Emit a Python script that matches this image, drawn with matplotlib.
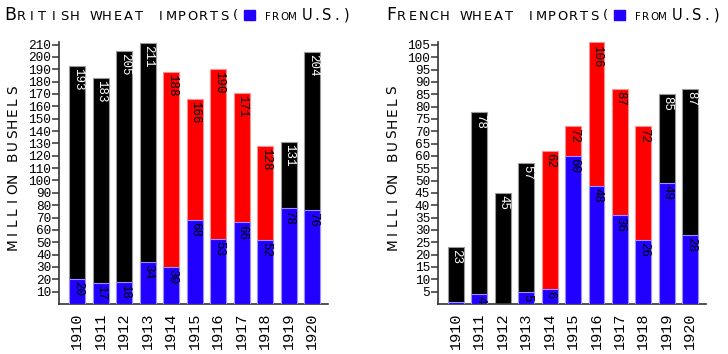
import matplotlib
matplotlib.use("Agg")
import matplotlib.pyplot as plt

years = [1910, 1911, 1912, 1913, 1914, 1915, 1916, 1917, 1918, 1919, 1920]
war_years = [1914, 1915, 1916, 1917, 1918]
british_total = [193, 183, 205, 211, 188, 166, 190, 171, 128, 131, 204]
british_us = [20, 17, 18, 34, 30, 68, 53, 66, 52, 78, 76]
french_total = [23, 78, 45, 57, 62, 72, 106, 87, 72, 85, 87]
french_us = [1, 4, 0, 5, 6, 60, 48, 36, 26, 49, 28]
british_ticks = list(range(10, 211, 10))
french_ticks = list(range(5, 106, 5))

BLACK = "#000000"
RED = "#ff0000"
BLUE = "#2200ff"
EDGE = {BLACK: "#9a9a9a", RED: "#ff9090", BLUE: "#9a90ff"}
MONO = "Liberation Mono"
SANS = "DejaVu Sans"

W, H = 728, 354
fig = plt.figure(figsize=(W / 100, H / 100), dpi=100)


def px(x, y):
    return x / W, 1 - y / H


def draw_panel(ax, totals, us, ticks, ymax):
    xs = list(range(len(years)))
    colors = [RED if y in war_years else BLACK for y in years]
    ax.bar(xs, totals, width=0.68, color=colors,
           edgecolor=[EDGE[c] for c in colors], linewidth=0.8, zorder=2)
    ax.bar(xs, us, width=0.68, color=BLUE, edgecolor=EDGE[BLUE],
           linewidth=0.8, zorder=3)
    for x, t, u, c in zip(xs, totals, us, colors):
        ax.annotate(str(t), xy=(x, t), xytext=(0.5, -1.5), textcoords="offset points",
                    ha="center", va="top", rotation=-90, fontsize=9,
                    family=MONO, color="white" if c == BLACK else "black", zorder=4)
        if u >= 2:
            ax.annotate(str(u), xy=(x, u), xytext=(0.5, -1.5), textcoords="offset points",
                        ha="center", va="top", rotation=-90, fontsize=9,
                        family=MONO, color="black", zorder=4)
    ax.set_xlim(-0.77, len(years) - 1 + 0.67)
    ax.set_ylim(0, ymax)
    ax.set_xticks(xs)
    ax.set_xticklabels([str(y) for y in years], rotation=90, family=MONO, fontsize=11)
    ax.set_yticks(ticks)
    ax.set_yticklabels([str(t) for t in ticks], family=MONO, fontsize=9.2)
    ax.tick_params(axis="x", length=0, pad=6)
    ax.tick_params(axis="y", length=5, width=1.1, pad=0.5, color="#333333")
    for s in ["top", "right"]:
        ax.spines[s].set_visible(False)
    for s in ["left", "bottom"]:
        ax.spines[s].set_linewidth(1.2)
        ax.spines[s].set_color("#333333")


axb = fig.add_axes([59 / W, 50 / H, 269 / W, 262.5 / H])
draw_panel(axb, british_total, british_us, british_ticks, 212.5)
axf = fig.add_axes([437.7 / W, 50 / H, 268.3 / W, 262.5 / H])
draw_panel(axf, french_total, french_us, french_ticks, 106.4)


def spaced(x0, y, text, size, step):
    for i, ch in enumerate(text):
        if ch == " ":
            continue
        fig.text(*px(x0 + step * (i + 0.5), y), ch, ha="center", va="baseline",
                 fontsize=size, family=SANS)


def title(x0, first, rest):
    step = 10.7
    fig.text(*px(x0 + step * 0.5, 19.5), first, ha="center", va="baseline",
             fontsize=12.5, family=SANS)
    spaced(x0 + step, 19.5, rest, 9.4, step)
    xq = x0 + step * (len(rest) + 1) + 4
    fig.patches.append(plt.Rectangle(px(xq, 20), 10.5 / W, 10 / H,
                                     transform=fig.transFigure, color=BLUE))
    spaced(xq + 19, 19.5, "FROM", 7.4, 8.4)
    spaced(xq + 58, 19.5, "U.S.)", 10.5, 9.8)


title(5, "B", "RITISH WHEAT IMPORTS(")
title(385.7, "F", "RENCH WHEAT IMPORTS(")


def ylabel(xc):
    text = "MILLION BUSHELS"
    for i, ch in enumerate(text):
        if ch == " ":
            continue
        fig.text(*px(xc, 244 - 11 * i), ch, ha="center", va="center", rotation=90,
                 fontsize=9.8, family=SANS)


ylabel(13)
ylabel(392.5)

fig.savefig("out.png", dpi=100)
